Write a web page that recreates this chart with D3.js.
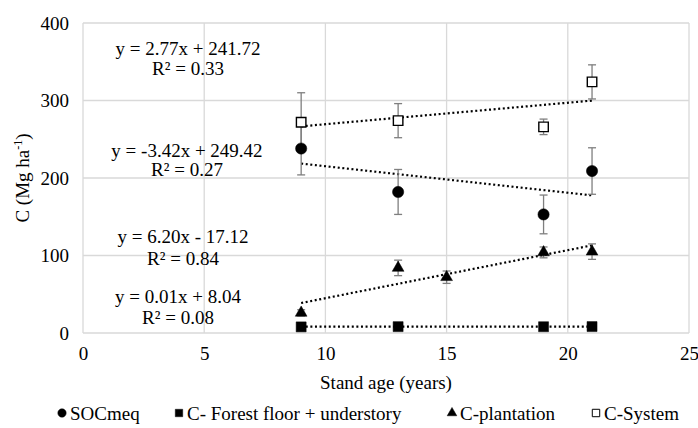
<!DOCTYPE html>
<html lang="en">
<head>
<meta charset="UTF-8">
<title>C stocks vs stand age</title>
<script src="https://cdn.jsdelivr.net/npm/d3@7"></script>
<style>
    body { margin: 0; background: #fff; }
    text { font-family: "Liberation Serif", "Times New Roman", serif; fill: #000; }
</style>
</head>
<body>
<div id="chart"></div>
<script>
    // data
    var socAge = [9, 13, 19, 21];
    var socVal = [238, 182, 153, 209];
    var socErr = [34, 29, 25, 30];

    var forestAge = [9, 13, 19, 21];
    var forestVal = [7.9, 8.2, 8.1, 8.3];
    var forestErr = [0, 0, 0, 0];

    var plantAge = [9, 13, 15, 19, 21];
    var plantVal = [26, 84, 72, 104, 105];
    var plantErr = [4, 10, 8, 7, 10];

    var sysAge = [9, 13, 19, 21];
    var sysVal = [272, 274, 266, 324];
    var sysErr = [38, 22, 10, 22];

    // trend lines (from the equations printed on the chart)
    var trendName = ["sys", "soc", "plant", "forest"];
    var trendSlope = [2.77, -3.42, 6.20, 0.01];
    var trendIntercept = [241.72, 249.42, -17.12, 8.04];
    var trendR2 = ["0.33", "0.27", "0.84", "0.08"];
    var trendFrom = [9, 9, 9, 9];
    var trendTo = [21, 21, 21, 21];

    var legendNames = ["SOCmeq", "C- Forest floor + understory", "C-plantation", "C-System"];
    var xTicks = [0, 5, 10, 15, 20, 25];
    var yTicks = [0, 100, 200, 300, 400];

    var width = 698, height = 428;
    var mLeft = 83, mRight = 689, mTop = 23, mBottom = 333;

    var x = d3.scaleLinear().domain([0, 25]).range([mLeft, mRight]);
    var y = d3.scaleLinear().domain([0, 400]).range([mBottom, mTop]);

    var svg = d3.select("#chart").append("svg")
        .attr("width", width)
        .attr("height", height);

    // grid
    svg.append("g").selectAll("line").data(xTicks).enter().append("line")
        .attr("x1", function (d) { return x(d); })
        .attr("x2", function (d) { return x(d); })
        .attr("y1", mTop).attr("y2", mBottom)
        .attr("stroke", "#d9d9d9").attr("stroke-width", 1.3);
    svg.append("g").selectAll("line").data(yTicks).enter().append("line")
        .attr("x1", mLeft).attr("x2", mRight)
        .attr("y1", function (d) { return y(d); })
        .attr("y2", function (d) { return y(d); })
        .attr("stroke", "#d9d9d9").attr("stroke-width", 1.3);

    // axes (labels only, lines come from the grid)
    var xAxis = svg.append("g")
        .attr("transform", "translate(0," + mBottom + ")")
        .call(d3.axisBottom(x).tickValues(xTicks).tickSize(0).tickPadding(14));
    var yAxis = svg.append("g")
        .attr("transform", "translate(" + mLeft + ",0)")
        .call(d3.axisLeft(y).tickValues(yTicks).tickSize(0).tickPadding(14));
    [xAxis, yAxis].forEach(function (a) {
        a.select(".domain").remove();
        a.selectAll("text").style("font-size", "19px")
            .style("font-family", "'Liberation Serif', 'Times New Roman', serif");
    });

    svg.append("text")
        .attr("x", (mLeft + mRight) / 2).attr("y", 389)
        .attr("text-anchor", "middle")
        .style("font-size", "19px")
        .text("Stand age (years)");

    var yTitle = svg.append("text")
        .attr("transform", "translate(29," + (mTop + mBottom) / 2 + ") rotate(-90)")
        .attr("text-anchor", "middle")
        .style("font-size", "19px");
    yTitle.append("tspan").text("C (Mg ha");
    yTitle.append("tspan").attr("dy", -7).style("font-size", "12px").text("-1");
    yTitle.append("tspan").attr("dy", 7).text(")");

    // trend lines
    svg.append("g").selectAll("line").data(trendName).enter().append("line")
        .attr("x1", function (d, i) { return x(trendFrom[i]); })
        .attr("x2", function (d, i) { return x(trendTo[i]); })
        .attr("y1", function (d, i) { return y(trendSlope[i] * trendFrom[i] + trendIntercept[i]); })
        .attr("y2", function (d, i) { return y(trendSlope[i] * trendTo[i] + trendIntercept[i]); })
        .attr("stroke", "#000")
        .attr("stroke-width", 2.2)
        .attr("stroke-dasharray", "2,2.6");

    // equation labels
    var labelPos = [[188, 55, 75], [187, 157, 176], [183, 243, 265], [178, 303, 324]];
    trendName.forEach(function (d, i) {
        var s = trendIntercept[i] < 0 ? " - " : " + ";
        svg.append("text")
            .attr("x", labelPos[i][0]).attr("y", labelPos[i][1])
            .attr("text-anchor", "middle")
            .style("font-size", "19px")
            .text("y = " + trendSlope[i].toFixed(2) + "x" + s + Math.abs(trendIntercept[i]).toFixed(2));
        svg.append("text")
            .attr("x", labelPos[i][0]).attr("y", labelPos[i][2])
            .attr("text-anchor", "middle")
            .style("font-size", "19px")
            .text("R\u00b2 = " + trendR2[i]);
    });

    // series
    var series = [
        {age: socAge, val: socVal, err: socErr, shape: d3.symbolCircle, size: 100, fill: "#000"},
        {age: forestAge, val: forestVal, err: forestErr, shape: d3.symbolSquare, size: 100, fill: "#000"},
        {age: plantAge, val: plantVal, err: plantErr, shape: d3.symbolTriangle, size: 60, fill: "#000"},
        {age: sysAge, val: sysVal, err: sysErr, shape: d3.symbolSquare, size: 90, fill: "#fff"}
    ];

    series.forEach(function (s) {
        var g = svg.append("g");
        var pts = s.age.map(function (a, i) { return {x: a, y: s.val[i], e: s.err[i]}; });
        var eb = g.selectAll(".eb").data(pts.filter(function (p) { return p.e > 0; })).enter().append("g")
            .attr("stroke", "#7f7f7f").attr("stroke-width", 1.3);
        eb.append("line")
            .attr("x1", function (p) { return x(p.x); }).attr("x2", function (p) { return x(p.x); })
            .attr("y1", function (p) { return y(p.y - p.e); }).attr("y2", function (p) { return y(p.y + p.e); });
        eb.append("line")
            .attr("x1", function (p) { return x(p.x) - 4; }).attr("x2", function (p) { return x(p.x) + 4; })
            .attr("y1", function (p) { return y(p.y + p.e); }).attr("y2", function (p) { return y(p.y + p.e); });
        eb.append("line")
            .attr("x1", function (p) { return x(p.x) - 4; }).attr("x2", function (p) { return x(p.x) + 4; })
            .attr("y1", function (p) { return y(p.y - p.e); }).attr("y2", function (p) { return y(p.y - p.e); });
        s.pts = pts;
    });

    series.forEach(function (s) {
        svg.append("g").selectAll("path").data(s.pts).enter().append("path")
            .attr("d", d3.symbol().type(s.shape).size(s.size))
            .attr("transform", function (p) { return "translate(" + x(p.x) + "," + y(p.y) + ")"; })
            .attr("fill", s.fill)
            .attr("stroke", "#000")
            .attr("stroke-width", s.fill === "#fff" ? 1.4 : 0.5);
    });

    // legend
    var legX = [62, 179, 452, 596];
    var legend = svg.append("g").selectAll("g").data(legendNames).enter().append("g")
        .attr("transform", function (d, i) { return "translate(" + legX[i] + ",413)"; });
    legend.append("path")
        .attr("d", function (d, i) { return d3.symbol().type(series[i].shape).size(i === 2 ? 40 : 55)(); })
        .attr("fill", function (d, i) { return series[i].fill; })
        .attr("stroke", "#000")
        .attr("stroke-width", function (d, i) { return i === 3 ? 1 : 0.5; });
    legend.append("text")
        .attr("x", 8).attr("y", 6.5)
        .style("font-size", "19px")
        .text(function (d) { return d; });
</script>
</body>
</html>
